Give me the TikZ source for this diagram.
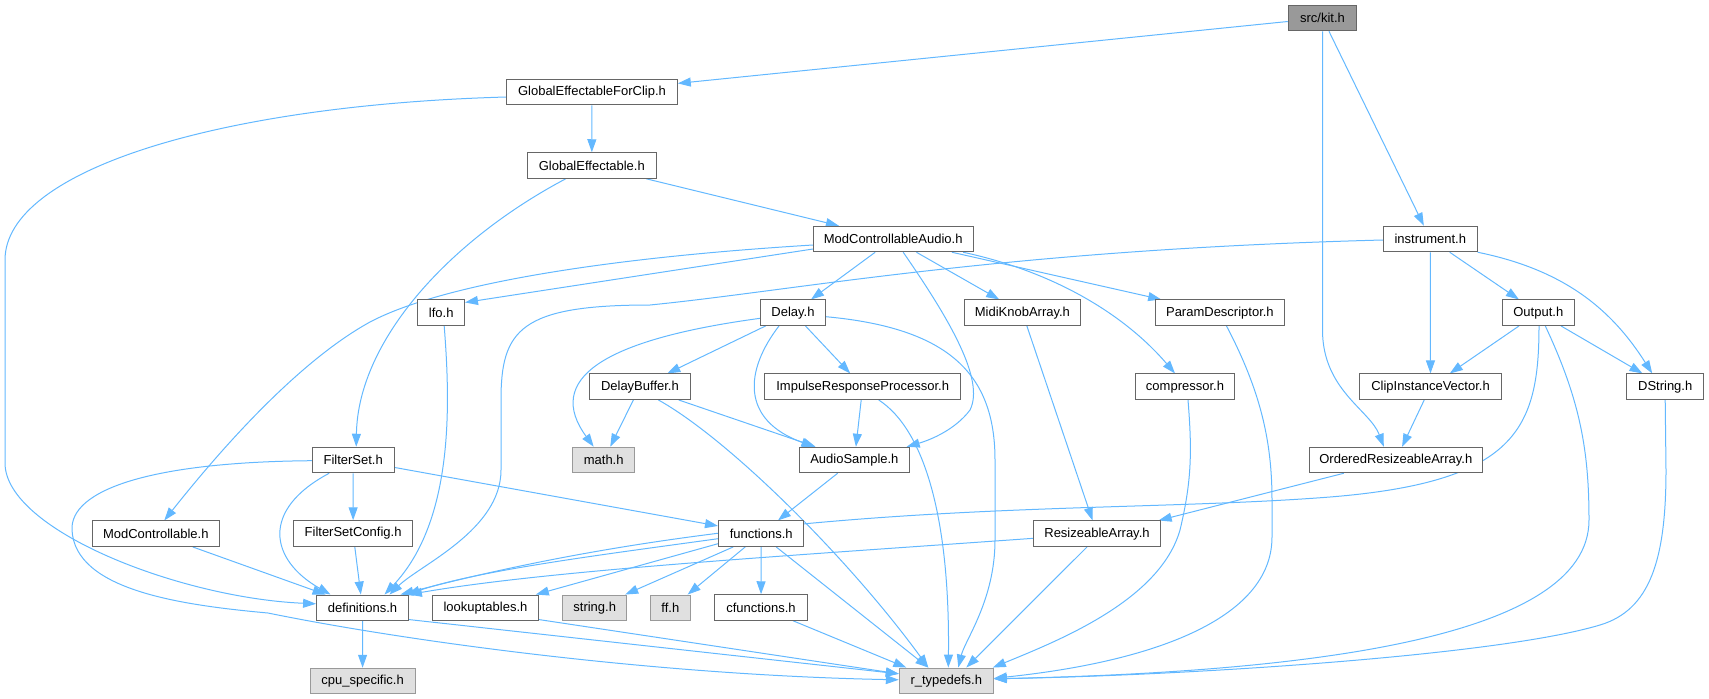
\documentclass[tikz,border=0pt]{standalone}
\usepackage{fontspec}
\setmainfont{Liberation Sans}
\usetikzlibrary{arrows.meta,calc}
\definecolor{edgec}{HTML}{63B8FF}
\definecolor{bordc}{HTML}{666666}
\definecolor{rootf}{HTML}{999999}
\definecolor{extf}{HTML}{E0E0E0}
\definecolor{extb}{HTML}{999999}
\pgfdeclarelayer{bg}
\pgfsetlayers{bg,main}
\begin{document}
\begin{tikzpicture}[x=1pt,y=-1pt,
  box/.style={draw=bordc, fill=white, line width=1pt, inner sep=0pt, minimum height=25.5pt, font=\fontsize{13}{15}\selectfont, text=black},
  root/.style={box, fill=rootf},
  ext/.style={box, draw=extb, fill=extf},
  e/.style={draw=edgec, line width=1pt, -{Triangle[length=13pt,width=9pt]}}]
\useasboundingbox (0,0) rectangle (1709,699);
% nodes
\node[root, minimum width=68.5pt] (kit) at (1322.5,18) {src/kit.h};
\node[box, minimum width=170.6pt] (gefc) at (592,92) {GlobalEffectableForClip.h};
\node[box, minimum width=129pt] (ge) at (591.8,165.5) {GlobalEffectable.h};
\node[box, minimum width=159.6pt] (mca) at (893.2,239) {ModControllableAudio.h};
\node[box, minimum width=93.8pt] (instr) at (1430.3,239) {instrument.h};
\node[box, minimum width=46.6pt] (lfo) at (441.2,312.7) {lfo.h};
\node[box, minimum width=64.7pt] (delay) at (793,312.7) {Delay.h};
\node[box, minimum width=115.5pt] (mka) at (1022.4,312.7) {MidiKnobArray.h};
\node[box, minimum width=129.5pt] (pd) at (1219.9,312.7) {ParamDescriptor.h};
\node[box, minimum width=71.8pt] (output) at (1538.3,312.7) {Output.h};
\node[box, minimum width=100.6pt] (db) at (639.9,386.7) {DelayBuffer.h};
\node[box, minimum width=195.9pt] (irp) at (862.7,386.7) {ImpulseResponseProcessor.h};
\node[box, minimum width=99.7pt] (comp) at (1185,386.7) {compressor.h};
\node[box, minimum width=142.5pt] (civ) at (1430.5,386.7) {ClipInstanceVector.h};
\node[box, minimum width=77pt] (dstr) at (1665.2,386.7) {DString.h};
\node[box, minimum width=81.9pt] (fs) at (353.2,460) {FilterSet.h};
\node[ext, minimum width=61.9pt] (math) at (603.7,460) {math.h};
\node[box, minimum width=109.5pt] (as) at (854.4,460) {AudioSample.h};
\node[box, minimum width=172.6pt] (ora) at (1395.8,460) {OrderedResizeableArray.h};
\node[box, minimum width=127.1pt] (mc) at (155.8,533.7) {ModControllable.h};
\node[box, minimum width=119.4pt] (fsc) at (353.1,533.5) {FilterSetConfig.h};
\node[box, minimum width=85.4pt] (func) at (761.2,533.7) {functions.h};
\node[box, minimum width=126.3pt] (ra) at (1097,533.7) {ResizeableArray.h};
\node[box, minimum width=91.8pt] (defs) at (362.5,607.8) {definitions.h};
\node[box, minimum width=105.6pt] (lut) at (485.5,607.8) {lookuptables.h};
\node[ext, minimum width=64pt] (str) at (594.7,607.8) {string.h};
\node[ext, minimum width=39.5pt] (ff) at (670.4,607.8) {ff.h};
\node[box, minimum width=92.6pt] (cfun) at (761,607.5) {cfunctions.h};
\node[ext, minimum width=105.2pt] (cpu) at (362.6,681) {cpu\_specific.h};
\node[ext, minimum width=94pt] (rt) at (946.3,680.8) {r\_typedefs.h};
% edges
\begin{pgfonlayer}{bg}
\draw[e] (kit) -- (gefc);
\draw[e] (kit.south) -- (1322.5,330) .. controls (1322.5,390) and (1370,410) .. ([xshift=-12pt]ora.north);
\draw[e] (kit) -- (instr);
\draw[e] (gefc) -- (ge);
\draw[e] ([yshift=-5pt]gefc.west) .. controls (220,105) and (5,170) .. (5,260) -- (5,463) .. controls (5,530) and (180,598) .. ([yshift=4pt]defs.west);
\draw[e] (ge) -- (mca);
\draw[e] ([xshift=-26pt]ge.south) .. controls (450,240) and (358,340) .. ([xshift=3pt]fs.north);
\draw[e] ([yshift=-10pt]mca.west) -- ([yshift=-3pt]lfo.north east);
\draw[e] ([yshift=-6pt]mca.west) .. controls (600,258) and (440,285) .. (370,322) .. controls (310,355) and (240,425) .. ([xshift=8.5pt]mc.north);
\draw[e] (mca) -- (delay);
\draw[e] ([xshift=10pt]mca.south) .. controls (950,320) and (985,380) .. (970,410) .. controls (955,430) and (930,440) .. ([xshift=-3pt]as.north east);
\draw[e] (mca) -- (mka);
\draw[e] (mca) -- (pd);
\draw[e] ([xshift=70pt]mca.south) .. controls (1055,272) and (1125,315) .. ([xshift=-10pt]comp.north);
\draw[e] ([yshift=-1pt]instr.west) .. controls (1000,250) and (800,290) .. (650,305) .. controls (520,305) and (501,330) .. (501,400) -- (501,470) .. controls (501,530) and (420,565) .. ([xshift=27pt]defs.north);
\draw[e] (instr) -- (civ);
\draw[e] (instr) -- (output);
\draw[e] (instr.south east) .. controls (1565,270) and (1612,310) .. ([xshift=-13pt]dstr.north);
\draw[e] ([xshift=3pt]lfo.south) .. controls (450,400) and (455,520) .. ([xshift=22pt]defs.north);
\draw[e] ([yshift=-5.6pt]delay.west) .. controls (600,340) and (545,380) .. ([xshift=-10pt]math.north);
\draw[e] (delay) -- (db);
\draw[e] (delay) -- (irp);
\draw[e] ([xshift=-14pt]delay.south) .. controls (745,370) and (740,420) .. ([xshift=-40pt]as.north);
\draw[e] ([yshift=-4pt]delay.east) .. controls (950,328) and (995,375) .. (995,460) -- (995,540) .. controls (995,600) and (965,640) .. ([xshift=12pt]rt.north);
\draw[e] (mka) -- (ra);
\draw[e] ([xshift=6.6pt]pd.south) .. controls (1260,390) and (1272,440) .. (1272,500) -- (1272,537) .. controls (1272,620) and (1150,662) .. ([yshift=2.5pt]rt.east);
\draw[e] (output) -- (civ);
\draw[e] (output) -- (dstr);
\draw[e] ([xshift=0.7pt]output.south) .. controls (1539,430) and (1515,482) .. (1330,497) .. controls (1100,515) and (780,495) .. ([xshift=38pt]defs.north);
\draw[e] ([xshift=7pt]output.south) .. controls (1580,400) and (1589,450) .. (1589,520) .. controls (1589,640) and (1300,672) .. ([yshift=2pt]rt.east);
\draw[e] (dstr.south) -- (1666,470) .. controls (1666,560) and (1650,610) .. (1600,625) .. controls (1500,655) and (1200,675) .. ([yshift=2pt]rt.east);
\draw[e] (civ) -- (ora);
\draw[e] ([xshift=3pt]comp.south) .. controls (1192,450) and (1192,480) .. (1180,530) .. controls (1160,600) and (1060,640) .. ([xshift=-1pt]rt.north east);
\draw[e] (db) -- (math);
\draw[e] (db) -- (as);
\draw[e] ([xshift=18.5pt]db.south) .. controls (730,440) and (850,560) .. ([xshift=-18pt]rt.north);
\draw[e] (irp) -- (as);
\draw[e] ([xshift=16pt]irp.south) .. controls (925,430) and (950,520) .. ([xshift=2pt]rt.north);
\draw[e] (as) -- (func);
\draw[e] (fs) -- (func);
\draw[e] ([xshift=-24pt]fs.south) .. controls (260,510) and (270,560) .. ([xshift=-32pt]defs.north);
\draw[e] (fs) -- (fsc);
\draw[e] ([yshift=-0.7pt]fs.west) .. controls (150,462) and (70,490) .. (72,530) .. controls (75,590) and (180,605) .. (268,613) .. controls (400,640) and (650,675) .. ([yshift=1pt]rt.west);
\draw[e] (mc) -- (defs);
\draw[e] (fsc) -- (defs);
\draw[e] ([yshift=-5pt]func.west) .. controls (600,555) and (480,570) .. ([xshift=-2pt]defs.north east);
\draw[e] ([yshift=-10pt]func.west) -- ([xshift=-3pt]lut.north east);
\draw[e] ([xshift=-28pt]func.south) -- ([xshift=-2pt]str.north east);
\draw[e] ([xshift=-16pt]func.south) -- ([xshift=-3pt]ff.north east);
\draw[e] (func) -- (cfun);
\draw[e] ([xshift=15pt]func.south) -- ([xshift=-18pt]rt.north);
\draw[e] ([yshift=-4.6pt]ra.west) .. controls (800,555) and (550,570) .. (defs.north east);
\draw[e] ([xshift=-10pt]ra.south) -- ([xshift=20pt]rt.north);
\draw[e] ([xshift=-52pt]ora.south) -- ([xshift=-2pt]ra.north east);
\draw[e] ([xshift=32pt]cfun.south) -- ([xshift=-40pt]rt.north);
\draw[e] (defs) -- (cpu);
\draw[e] ([yshift=1.5pt]defs.south east) -- ([yshift=7pt]rt.west);
\draw[e] ([yshift=1.5pt]lut.south east) -- ([yshift=7pt]rt.west);
\end{pgfonlayer}
\end{tikzpicture}
\end{document}
